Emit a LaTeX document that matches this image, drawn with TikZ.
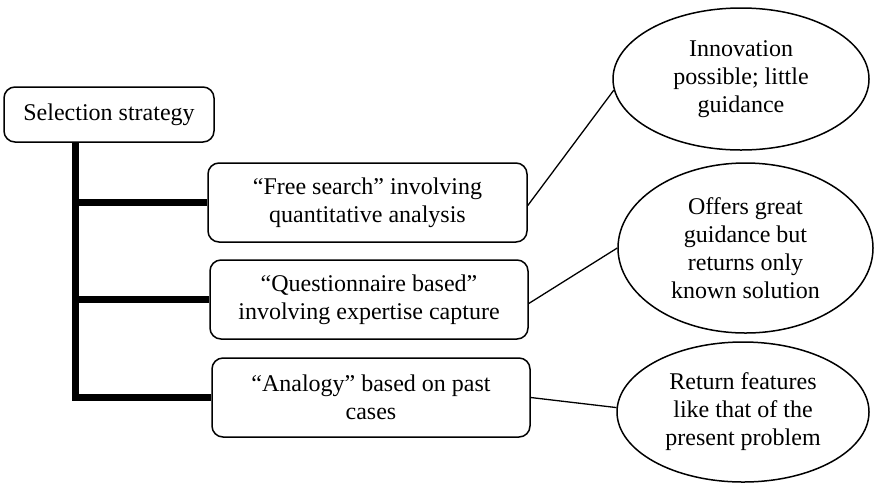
\documentclass[tikz,border=0pt]{standalone}
\usepackage{fontspec}
\setmainfont{Liberation Serif}
\usetikzlibrary{shapes.geometric}
\begin{document}
\begin{tikzpicture}[x=1pt,y=-1pt,
  every node/.style={font=\fontsize{24}{28}\selectfont, align=center, inner sep=0pt},
  rbox/.style={draw, line width=1.5pt, rounded corners=11pt},
  ell/.style={draw, ellipse, line width=1.5pt},
  trunk/.style={line width=7pt, line join=miter},
  link/.style={line width=1.3pt}]
\useasboundingbox (0,0) rectangle (874,483);
\node[rbox, minimum width=210pt, minimum height=55pt] (top) at (109,114.5) {Selection strategy};
\node[rbox, minimum width=319pt, minimum height=79pt] (b1) at (367.5,202.5) {“Free search” involving\\quantitative analysis};
\node[rbox, minimum width=318pt, minimum height=79pt] (b2) at (369,299.5) {“Questionnaire based”\\involving expertise capture};
\node[rbox, minimum width=318pt, minimum height=79pt] (b3) at (371,397.5) {“Analogy” based on past\\cases};
\node[ell, minimum width=256pt, minimum height=142pt] (e1) at (741,79) {Innovation\\possible; little\\guidance};
\node[ell, minimum width=255pt, minimum height=170pt] (e2) at (745.5,248) {Offers great\\guidance but\\returns only\\known solution};
\node[ell, minimum width=252pt, minimum height=140pt] (e3) at (743,412) {Return features\\like that of the\\present problem};
\coordinate (t0) at (top.south -| 75,0);
\draw[trunk] (t0) |- (b3.west);
\draw[trunk] (t0 |- b1.west) -- (b1.west);
\draw[trunk] (t0 |- b2.west) -- (b2.west);
\draw[link] ([yshift=-3pt]b1.east) -- (e1.185);
\draw[link] ([yshift=-4pt]b2.east) -- (e2.180);
\draw[link] (b3.east) -- (e3.178);
\end{tikzpicture}
\end{document}
